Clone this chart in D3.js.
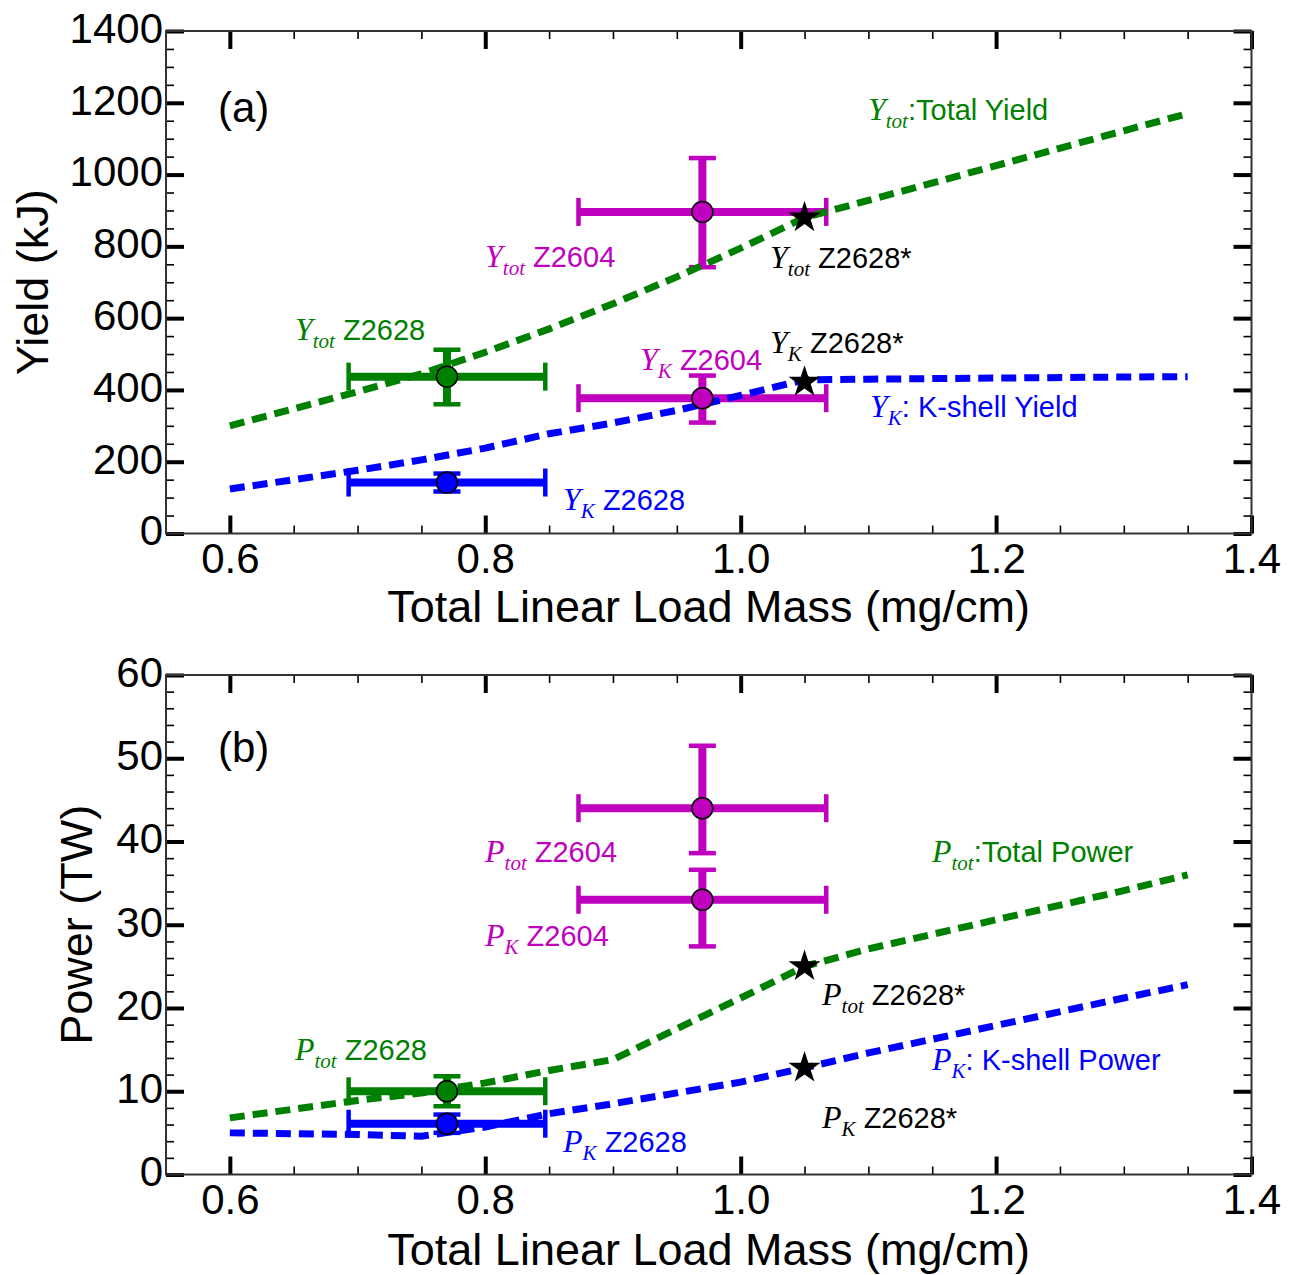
<!DOCTYPE html>
<html><head><meta charset="utf-8">
<script src="https://cdn.jsdelivr.net/npm/d3@7"></script>
<style>
body{margin:0;background:#fff;}
svg{display:block;}
</style></head>
<body>
<script>
// ---------- DATA ----------
const massModel = [0.6,0.7,0.75,0.8,0.85,0.9,0.95,1.0,1.05,1.1,1.2,1.3,1.35];
const yieldTotModel = [300,395,445,505,570,640,715,795,880,928,1025,1122,1170];
const yieldKModel   = [124,176,205,238,278,308,343,385,428,430,433,436,437];
const powerTotModel = [6.8,8.9,9.8,11.0,12.5,13.8,17.5,21.2,25.0,27.1,30.6,34.1,36.0];
const powerKModel   = [5.0,4.8,4.6,5.7,7.3,8.5,9.8,11.1,12.8,14.6,17.9,21.2,22.8];

const yieldShots = [
  {shot:"Z2628", q:"tot", m:0.77, dm:0.077, v:437, lo:360, hi:512, c:"green"},
  {shot:"Z2628", q:"K",   m:0.77, dm:0.077, v:142, lo:117, hi:167, c:"blue"},
  {shot:"Z2604", q:"tot", m:0.97, dm:0.097, v:896, lo:742, hi:1046, c:"magenta"},
  {shot:"Z2604", q:"K",   m:0.97, dm:0.097, v:377, lo:309, hi:440, c:"magenta"}
];
const powerShots = [
  {shot:"Z2628", q:"tot", m:0.77, dm:0.077, v:10.0, lo:8.2, hi:11.8, c:"green"},
  {shot:"Z2628", q:"K",   m:0.77, dm:0.077, v:6.1, lo:5.0, hi:7.2, c:"blue"},
  {shot:"Z2604", q:"tot", m:0.97, dm:0.097, v:44.0, lo:38.6, hi:51.5, c:"magenta"},
  {shot:"Z2604", q:"K",   m:0.97, dm:0.097, v:33.0, lo:27.4, hi:36.6, c:"magenta"}
];
const yieldStars = [{m:1.05, v:880},{m:1.05, v:422}];
const powerStars = [{m:1.05, v:25.0},{m:1.05, v:12.8}];

const xTicks = [0.6,0.8,1.0,1.2,1.4];
const yieldTicks = [0,200,400,600,800,1000,1200,1400];
const powerTicks = [0,10,20,30,40,50,60];

// annotations in data coordinates: [sym, sub, text, x, y, color]
const yieldLabels = [
  ["Y","tot",":Total Yield",1.0997,1152,"green"],
  ["Y","tot"," Z2604",0.7998,742,"magenta"],
  ["Y","tot"," Z2628*",1.023,740,"black"],
  ["Y","tot"," Z2628",0.651,539,"green"],
  ["Y","K"," Z2604",0.9212,455,"magenta"],
  ["Y","K"," Z2628*",1.023,503,"black"],
  ["Y","K",": K-shell Yield",1.1013,325,"blue"],
  ["Y","K"," Z2628",0.8609,65,"blue"]
];
const powerLabels = [
  ["P","tot",":Total Power",1.1498,37.5,"green"],
  ["P","tot"," Z2604",0.7998,37.5,"magenta"],
  ["P","K"," Z2604",0.7998,27.5,"magenta"],
  ["P","tot"," Z2628*",1.0637,20.4,"black"],
  ["P","K"," Z2628*",1.0637,5.6,"black"],
  ["P","K",": K-shell Power",1.1498,12.6,"blue"],
  ["P","tot"," Z2628",0.651,13.8,"green"],
  ["P","K"," Z2628",0.8609,2.7,"blue"]
];

// ---------- STYLE ----------
const COL = {green:"#008000", blue:"#0000ff", magenta:"#bf00bf", black:"#000"};
const W = 1293, H = 1275;
const svg = d3.select("body").append("svg").attr("width",W).attr("height",H);
const SANS = "'Liberation Sans', Arial, Helvetica, sans-serif";
const SERIF = "'Liberation Serif', 'Times New Roman', serif";

function panel(cfg){
  const x = d3.scaleLinear().domain([0.55,1.4]).range([166,1251.5]);
  const y = d3.scaleLinear().domain(cfg.ydom).range(cfg.yrange);
  const g = svg.append("g");
  const [y0,y1] = cfg.yrange;

  const minorX = d3.range(0.6,1.4001,0.05).filter(v=>Math.abs(v*5-Math.round(v*5))>1e-6);
  const minorY = d3.range(cfg.ydom[0],cfg.ydom[1]+1e-6,cfg.minorStep).filter(v=>Math.abs(v/cfg.majorStep-Math.round(v/cfg.majorStep))>1e-6);

  const mk = (axis, tr, cls)=>{
    const a = g.append("g").attr("transform",tr).call(axis);
    a.select(".domain").remove();
    a.selectAll(".tick line").attr("stroke","#000").attr("stroke-width", cls==="major"?4:1.6);
    return a;
  };
  const bx = mk(d3.axisBottom(x).tickValues(xTicks).tickSize(-18).tickPadding(10).tickFormat(d3.format(".1f")), `translate(0,${y0})`,"major");
  bx.selectAll("text").attr("font-family",SANS).attr("font-size",42).attr("fill","#000");
  mk(d3.axisBottom(x).tickValues(minorX).tickSize(-8).tickFormat(""), `translate(0,${y0})`,"minor");
  mk(d3.axisTop(x).tickValues(xTicks).tickSize(-18).tickFormat(""), `translate(0,${y1})`,"major");
  mk(d3.axisTop(x).tickValues(minorX).tickSize(-8).tickFormat(""), `translate(0,${y1})`,"minor");
  const ly = mk(d3.axisLeft(y).tickValues(cfg.ticks).tickSize(-18).tickPadding(3).tickFormat(d3.format("d")), `translate(166,0)`,"major");
  ly.selectAll("text").attr("font-family",SANS).attr("font-size",42).attr("fill","#000").attr("dy","0.27em");
  mk(d3.axisLeft(y).tickValues(minorY).tickSize(-8).tickFormat(""), `translate(166,0)`,"minor");
  mk(d3.axisRight(y).tickValues(cfg.ticks).tickSize(-18).tickFormat(""), `translate(1251.5,0)`,"major");
  mk(d3.axisRight(y).tickValues(minorY).tickSize(-8).tickFormat(""), `translate(1251.5,0)`,"minor");

  g.append("rect").attr("x",166).attr("y",y1).attr("width",1251.5-166).attr("height",y0-y1)
    .attr("fill","none").attr("stroke","#333").attr("stroke-width",2);

  g.append("text").attr("x",708.7).attr("y",cfg.xtitleY).attr("text-anchor","middle")
    .attr("font-family",SANS).attr("font-size",45).text("Total Linear Load Mass (mg/cm)");
  g.append("text").attr("transform",`translate(${cfg.ytitleX},${(y0+y1)/2}) rotate(-90)`).attr("text-anchor","middle")
    .attr("font-family",SANS).attr("font-size",45).text(cfg.ytitle);

  g.append("text").attr("x",x(0.5907)).attr("y",y(cfg.letterY)).attr("font-family",SANS).attr("font-size",42).text(cfg.letter);

  const eb = g.append("g");
  cfg.shots.forEach(s=>{
    const c = COL[s.c];
    const cx = x(s.m), cy = y(s.v);
    eb.append("line").attr("x1",x(s.m-s.dm)).attr("x2",x(s.m+s.dm)).attr("y1",cy).attr("y2",cy).attr("stroke",c).attr("stroke-width",8);
    eb.append("line").attr("x1",cx).attr("x2",cx).attr("y1",y(s.lo)).attr("y2",y(s.hi)).attr("stroke",c).attr("stroke-width",8);
    [s.m-s.dm, s.m+s.dm].forEach(m=>{
      eb.append("line").attr("x1",x(m)).attr("x2",x(m)).attr("y1",cy-14).attr("y2",cy+14).attr("stroke",c).attr("stroke-width",4.5);
    });
    [s.lo, s.hi].forEach(v=>{
      eb.append("line").attr("x1",cx-13.5).attr("x2",cx+13.5).attr("y1",y(v)).attr("y2",y(v)).attr("stroke",c).attr("stroke-width",4.5);
    });
  });

  const line = d3.line().x((d,i)=>x(massModel[i])).y(d=>y(d));
  cfg.models.forEach(([vals,c])=>{
    g.append("path").attr("d",line(vals)).attr("fill","none").attr("stroke",COL[c])
      .attr("stroke-width",7).attr("stroke-dasharray","15,8");
  });

  g.selectAll(null).data(cfg.shots).enter().append("circle")
    .attr("cx",d=>x(d.m)).attr("cy",d=>y(d.v)).attr("r",10.5)
    .attr("fill",d=>COL[d.c]).attr("stroke","#000").attr("stroke-width",1.5);

  const star = d3.symbol().type(d3.symbolStar).size(320);
  g.selectAll(null).data(cfg.stars).enter().append("path")
    .attr("d",star).attr("transform",d=>`translate(${x(d.m)},${y(d.v)})`).attr("fill","#000");

  cfg.labels.forEach(([sym,sub,txt,lx,lyv,c])=>{
    const t = g.append("text").attr("x",x(lx)).attr("y",y(lyv)).attr("fill",COL[c])
      .attr("font-family",SANS).attr("font-size",29);
    t.append("tspan").attr("font-family",SERIF).attr("font-style","italic").attr("font-size",32).text(sym);
    t.append("tspan").attr("font-family",SERIF).attr("font-style","italic").attr("font-size",21).attr("dy",8).text(sub);
    t.append("tspan").attr("dy",-8).text(txt);
  });
}

panel({ydom:[0,1400], yrange:[533.5,31], ticks:yieldTicks, majorStep:200, minorStep:50,
  xtitleY:622, ytitle:"Yield (kJ)", ytitleX:48, letter:"(a)", letterY:1146,
  shots:yieldShots, stars:yieldStars, labels:yieldLabels,
  models:[[yieldTotModel,"green"],[yieldKModel,"blue"]]});

panel({ydom:[0,60], yrange:[1174.5,675], ticks:powerTicks, majorStep:10, minorStep:2,
  xtitleY:1265, ytitle:"Power (TW)", ytitleX:92, letter:"(b)", letterY:49.5,
  shots:powerShots, stars:powerStars, labels:powerLabels,
  models:[[powerTotModel,"green"],[powerKModel,"blue"]]});
</script>
</body></html>
